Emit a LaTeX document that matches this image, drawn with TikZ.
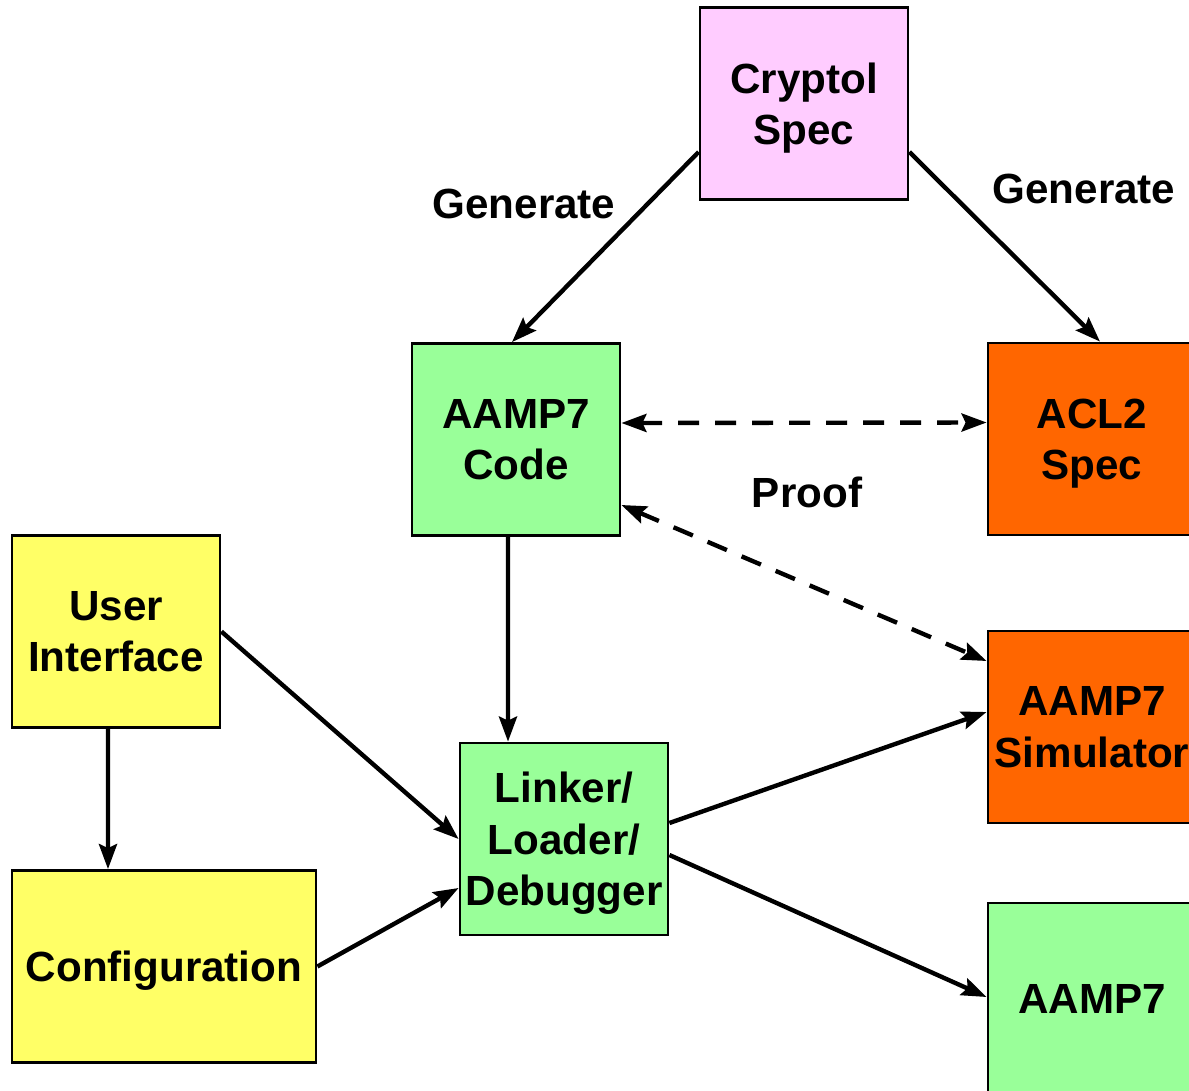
\documentclass[tikz,border=0pt]{standalone}
\usepackage{fontspec}
\setmainfont{Liberation Sans}
\usepackage{xcolor}
\usepackage{tikz}
\usetikzlibrary{arrows.meta}

\definecolor{specpink}{HTML}{FFCCFF}
\definecolor{codegreen}{HTML}{99FF99}
\definecolor{aclorange}{HTML}{FF6600}
\definecolor{uiyellow}{HTML}{FFFF66}

\begin{document}
\begin{tikzpicture}
% Define styles
\tikzstyle{box} = [rectangle, draw, line width=0.8pt, text centered, align=center, minimum width=2.08cm, minimum height=1.92cm, inner sep=1pt, text depth=0pt, font=\bfseries\fontsize{12}{14.6}\selectfont]
\tikzstyle{lbl} = [font=\bfseries\fontsize{12}{14.6}\selectfont]
\tikzstyle{arr} = [line width=1.25pt, -{Stealth[length=0.25cm, width=0.18cm, inset=0.04cm]}]
\tikzstyle{proof} = [arr, {Stealth[length=0.25cm, width=0.18cm, inset=0.04cm]}-{Stealth[length=0.25cm, width=0.18cm, inset=0.04cm]}, dash pattern=on 0.21cm off 0.16cm]

\useasboundingbox (0,0) rectangle (11.89,-10.91);
\clip (0,0) rectangle (11.89,-10.91);

% Define nodes
\node[box, fill=specpink] (crypt) at (8.04,-1.035) {Cryptol\\Spec};
\node[box, fill=codegreen] (code) at (5.16,-4.395) {AAMP7\\Code};
\node[box, fill=aclorange] (acl) at (10.92,-4.39) {ACL2\\Spec};
\node[box, fill=uiyellow] (ui) at (1.16,-6.315) {User\\Interface};
\node[box, fill=uiyellow, minimum width=3.04cm] (config) at (1.64,-9.665) {Configuration};
\node[box, fill=codegreen] (linker) at (5.64,-8.39) {Linker/\\Loader/\\Debugger};
\node[box, fill=aclorange] (sim) at (10.92,-7.27) {AAMP7\\Simulator};
\node[box, fill=codegreen] (aamp) at (10.92,-9.99) {AAMP7};

\node[lbl] (gen1) at (5.24,-2.04) {Generate};
\node[lbl] (gen2) at (10.84,-1.89) {Generate};
\node[lbl] (prf) at (8.07,-4.92) {Proof};

% Connect the nodes
\draw[arr] ([yshift=-0.485cm]crypt.west) -- ([xshift=-0.04cm]code.north);
\draw[arr] ([yshift=-0.485cm]crypt.east) -- ([xshift=0.08cm]acl.north);
\draw[proof] ([yshift=0.165cm]code.east) -- ([yshift=0.165cm]acl.west);
\draw[proof] ([yshift=-0.655cm]code.east) -- ([yshift=0.66cm]sim.west);
\draw[arr] ([xshift=-0.08cm]code.south) -- ([xshift=-0.56cm]linker.north);
\draw[arr] (ui.east) -- (linker.west);
\draw[arr] ([xshift=-0.08cm]ui.south) -- ([xshift=-0.56cm]config.north);
\draw[arr] (config.east) -- ([yshift=-0.49cm]linker.west);
\draw[arr] ([yshift=0.16cm]linker.east) -- ([yshift=0.15cm]sim.west);
\draw[arr] ([yshift=-0.16cm]linker.east) -- ([yshift=0.02cm]aamp.west);

\end{tikzpicture}
\end{document}
